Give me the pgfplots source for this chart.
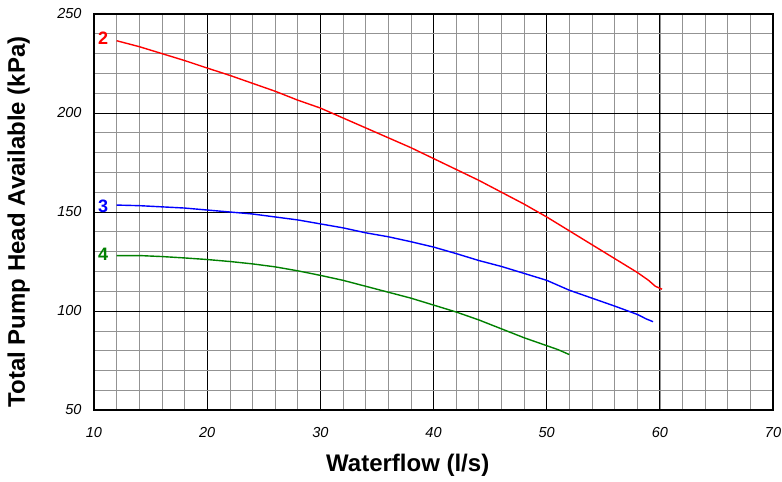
\documentclass[border=0pt]{standalone}
\usepackage{pgfplots}
\pgfplotsset{compat=1.18}
\usepackage{fontspec}
\setmainfont{Liberation Sans}
\setsansfont{Liberation Sans}
\definecolor{cgreen}{RGB}{0,128,0}
\begin{document}
\begin{tikzpicture}
\begin{axis}[
  name=ax,
  scale only axis, width=679pt, height=396pt,
  xmin=10, xmax=70, ymin=50, ymax=250,
  xtick={10,20,...,70}, ytick={50,100,...,250},
  minor xtick={12,14,...,68}, minor ytick={60,70,...,240},
  grid=both,
  major grid style={black, line width=0.8pt},
  minor grid style={gray!85, line width=0.6pt},
  axis line style={black, line width=1.3pt},
  major tick length=0pt, minor tick length=0pt,
  /pgf/number format/assume math mode=true,
  ticklabel style={font=\fontsize{14.5}{16}\selectfont\itshape},
  xticklabel style={anchor=center, yshift=-23pt},
  yticklabel style={anchor=east, xshift=-9pt},
  xlabel={Waterflow (l/s)},
  ylabel={Total Pump Head Available (kPa)},
  label style={font=\fontsize{24}{28}\selectfont\bfseries},
  xlabel style={at={(axis description cs:0.462,-0.139)}, anchor=center},
  ylabel style={at={(axis description cs:-0.111,0.475)}, anchor=center},
  clip=false,
]
\addplot[red, line width=1.4pt] coordinates {
(12,236.5) (14,233.5) (16,230) (18,226.5) (20,222.7) (22,219) (24,215) (26,211)
(28,206.5) (30,202.5) (32,197.5) (34,192.5) (36,187.5) (38,182.5) (40,177)
(42,171.5) (44,166) (46,160) (48,154) (50,147.5) (52,140.5) (54,133.5)
(56,126.5) (58,119.5) (59,115.5) (59.6,112.5) (60.2,111)};
\addplot[blue, line width=1.4pt] coordinates {
(12,153.5) (14,153.2) (16,152.6) (18,152) (20,151) (22,150) (24,149) (26,147.5)
(28,146) (30,144) (32,142) (34,139.5) (36,137.5) (38,135) (40,132.3) (42,129)
(44,125.5) (46,122.5) (48,119) (50,115.5) (52,110.5) (54,106.5) (56,102.5)
(58,98.3) (58.8,96) (59.4,94.6)};
\addplot[cgreen, line width=1.4pt] coordinates {
(12,128) (14,128) (16,127.5) (18,126.8) (20,126) (22,125) (24,123.8) (26,122.3)
(28,120.3) (30,118) (32,115.5) (34,112.5) (36,109.5) (38,106.5) (40,103)
(42,99.5) (44,95.5) (46,91) (48,86.5) (50,82.5) (51,80.5) (52,78)};
\node[text=red, font=\fontsize{18}{18}\selectfont\bfseries] at (axis cs:10.8,238) {2};
\node[text=blue, font=\fontsize{18}{18}\selectfont\bfseries] at (axis cs:10.8,153) {3};
\node[text=cgreen, font=\fontsize{18}{18}\selectfont\bfseries] at (axis cs:10.8,128.8) {4};
\end{axis}
\pgfresetboundingbox
\path[use as bounding box] ([shift={(-94pt,-71pt)}]ax.south west) rectangle ([shift={(9pt,14pt)}]ax.north east);
\end{tikzpicture}
\end{document}
